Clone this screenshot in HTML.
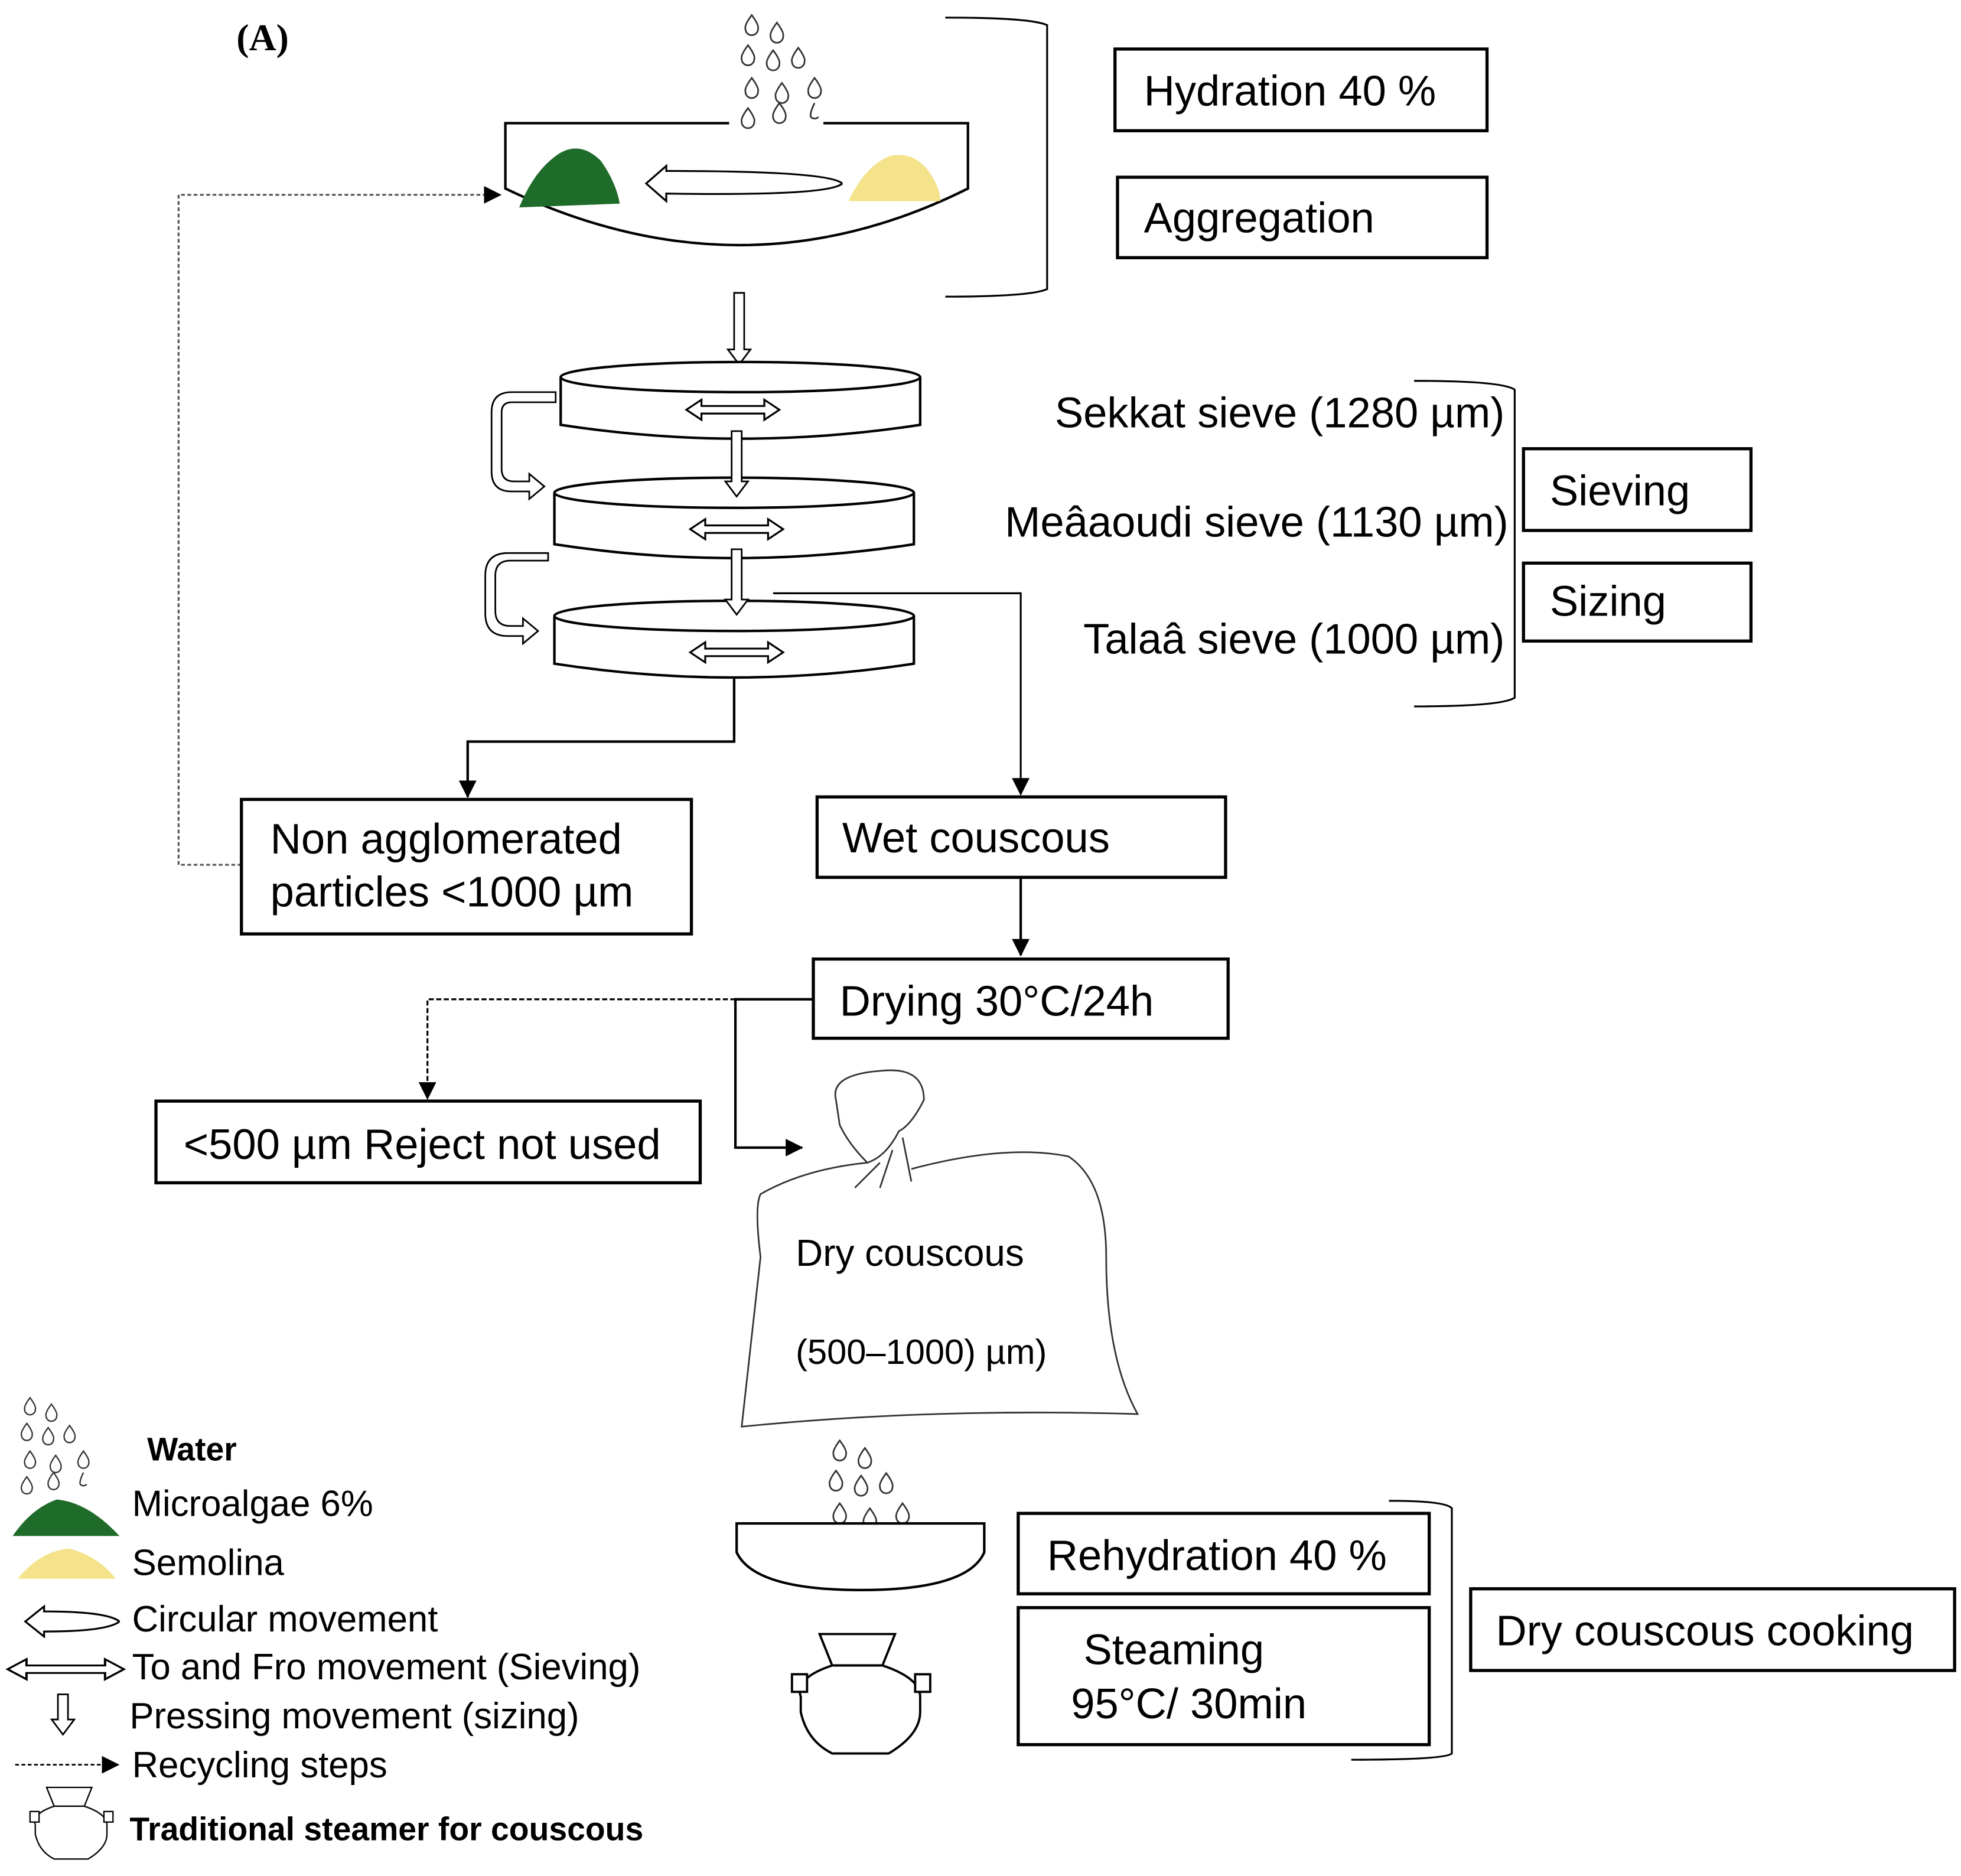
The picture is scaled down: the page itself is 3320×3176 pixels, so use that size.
<!DOCTYPE html>
<html><head><meta charset="utf-8"><style>html,body{margin:0;padding:0;background:#fff}svg{display:block}</style></head><body>
<svg xmlns="http://www.w3.org/2000/svg" width="3320" height="3176" viewBox="0 0 1560 1492.5" font-family="Liberation Sans, sans-serif">
<defs>
<marker id="ah2" markerWidth="14" markerHeight="14" refX="13" refY="7" orient="auto" markerUnits="userSpaceOnUse"><path d="M0,0 L14,7 L0,14 z" fill="#000"/></marker>
<g id="drops" fill="none" stroke="#333" stroke-width="1.3">
<path d="M8,0 q-6,8 -5,11 a5,5 0 0 0 10,0 q1,-3 -5,-11z"/>
<path d="M28,6 q-6,8 -5,11 a5,5 0 0 0 10,0 q1,-3 -5,-11z"/>
<path d="M5,24 q-6,8 -5,11 a5,5 0 0 0 10,0 q1,-3 -5,-11z"/>
<path d="M25,28 q-6,8 -5,11 a5,5 0 0 0 10,0 q1,-3 -5,-11z"/>
<path d="M45,26 q-6,8 -5,11 a5,5 0 0 0 10,0 q1,-3 -5,-11z"/>
<path d="M8,50 q-6,8 -5,11 a5,5 0 0 0 10,0 q1,-3 -5,-11z"/>
<path d="M32,54 q-6,8 -5,11 a5,5 0 0 0 10,0 q1,-3 -5,-11z"/>
<path d="M58,50 q-6,8 -5,11 a5,5 0 0 0 10,0 q1,-3 -5,-11z"/>
<path d="M5,74 q-6,8 -5,11 a5,5 0 0 0 10,0 q1,-3 -5,-11z"/>
<path d="M30,70 q-6,8 -5,11 a5,5 0 0 0 10,0 q1,-3 -5,-11z"/>
<path d="M58,70 q-4,8 -3,11 a4,4 0 0 0 6,0"/>
</g>
<g id="dbl" fill="#fff" stroke="#000" stroke-width="1.5">
<path d="M0,0 l12,-8 v5 h50 v-5 l12,8 l-12,8 v-5 h-50 v5 z"/>
</g>
<g id="steam" fill="#fff" stroke="#000" stroke-width="1.8">
<path d="M20,0 L80,0 L70,25 L30,25 Z"/>
<path d="M30,25 Q0,35 5,50 L5,62 Q10,85 30,95 L75,95 Q100,80 100,62 L100,50 Q100,35 70,25 Z"/>
<rect x="-2" y="32" width="12" height="14"/><rect x="96" y="32" width="12" height="14"/>
</g>
</defs>
<text x="188" y="40" font-family="Liberation Serif, serif" font-weight="bold" font-size="30">(A)</text>
<use href="#drops" x="590" y="12"/>
<path d="M580,98 L402,98 L402,150 Q590,240 770,150 L770,98 L655,98" fill="none" stroke="#000" stroke-width="2"/>
<path d="M413,165 Q425,135 445,122 Q462,112 478,128 Q490,145 493,162 Z" fill="#1f6b2a"/>
<path d="M675,160 Q688,132 708,124 Q728,120 740,138 Q748,150 748,160 Z" fill="#f4e38a"/>
<path d="M670,146 Q660,136 530,136 L530,132 L514,146 L530,160 L530,154 Q660,156 670,146" fill="#fff" stroke="#000" stroke-width="1.5"/>
<path d="M752,14 Q820,14 833,20 L833,230 Q820,236 752,236" fill="none" stroke="#000" stroke-width="1.5"/>
<g font-size="34" fill="#000">
<rect x="887" y="39" width="296" height="65" fill="none" stroke="#000" stroke-width="2.5"/><text x="910" y="84">Hydration 40 %</text>
<rect x="889" y="141" width="294" height="64" fill="none" stroke="#000" stroke-width="2.5"/><text x="910" y="185">Aggregation</text>
</g>
<path d="M584,233 h8 v45 h5 l-9,12 l-9,-12 h5 z" fill="#fff" stroke="#000" stroke-width="1.3"/>
<g fill="#fff" stroke="#000" stroke-width="2">
<path d="M446,300 L446,338 Q589,360 732,338 L732,300"/><ellipse cx="589" cy="300" rx="143" ry="12"/>
<path d="M441,392 L441,433 Q584,455 727,433 L727,392"/><ellipse cx="584" cy="392" rx="143" ry="12"/>
<path d="M441,490 L441,528 Q584,550 727,528 L727,490"/><ellipse cx="584" cy="490" rx="143" ry="12"/>
</g>
<use href="#dbl" x="546" y="326"/><use href="#dbl" x="549" y="421"/><use href="#dbl" x="549" y="519"/>
<path d="M582,343 h8 v40 h5 l-9,12 l-9,-12 h5 z" fill="#fff" stroke="#000" stroke-width="1.3"/>
<path d="M582,437 h8 v40 h5 l-9,12 l-9,-12 h5 z" fill="#fff" stroke="#000" stroke-width="1.3"/>
<path d="M442,320 h-35 q-8,0 -8,8 v45 q0,10 10,10 h12 v-6 l12,10 l-12,10 v-6 h-14 q-16,0 -16,-16 v-47 q0,-16 16,-16 h35 z" fill="#fff" stroke="#000" stroke-width="1.3"/>
<path d="M436,446 h-30 q-12,0 -12,12 v28 q0,12 12,12 h10 v-6 l12,10 l-12,10 v-6 h-12 q-18,0 -18,-18 v-30 q0,-18 18,-18 h32 z" fill="#fff" stroke="#000" stroke-width="1.3"/>
<path d="M615,472 H812 V632" fill="none" stroke="#000" stroke-width="1.5" marker-end="url(#ah2)"/>
<path d="M584,540 V590 H372 V634" fill="none" stroke="#000" stroke-width="2" marker-end="url(#ah2)"/>
<path d="M192,688 H142 V155 H398" fill="none" stroke="#555" stroke-width="1.5" stroke-dasharray="3,2" marker-end="url(#ah2)"/>
<g font-size="34" fill="#000">
<text x="1197" y="340" text-anchor="end">Sekkat sieve (1280 µm)</text>
<text x="1200" y="427" text-anchor="end">Meâaoudi sieve (1130 µm)</text>
<text x="1197" y="520" text-anchor="end">Talaâ sieve (1000 µm)</text>
</g>
<path d="M1125,303 Q1195,303 1205,310 L1205,555 Q1195,562 1125,562" fill="none" stroke="#000" stroke-width="1.5"/>
<g font-size="34">
<rect x="1212" y="357" width="181" height="65" fill="none" stroke="#000" stroke-width="2.5"/><text x="1233" y="402">Sieving</text>
<rect x="1212" y="448" width="181" height="62" fill="none" stroke="#000" stroke-width="2.5"/><text x="1233" y="490">Sizing</text>
<rect x="192" y="636" width="358" height="107" fill="none" stroke="#000" stroke-width="2.5"/><text x="215" y="679">Non agglomerated</text><text x="215" y="721">particles &lt;1000 µm</text>
<rect x="650" y="634" width="325" height="64" fill="none" stroke="#000" stroke-width="2.5"/><text x="670" y="678">Wet couscous</text>
<rect x="647" y="763" width="330" height="63" fill="none" stroke="#000" stroke-width="2.5"/><text x="668" y="808">Drying 30°C/24h</text>
<rect x="124" y="876" width="433" height="65" fill="none" stroke="#000" stroke-width="2.5"/><text x="146" y="922">&lt;500 µm Reject not used</text>
</g>
<path d="M812,698 V760" fill="none" stroke="#000" stroke-width="2" marker-end="url(#ah2)"/>
<path d="M647,795 H585 V913 H638" fill="none" stroke="#000" stroke-width="2" marker-end="url(#ah2)"/>
<path d="M585,795 H340 V874" fill="none" stroke="#000" stroke-width="1.5" stroke-dasharray="4,2" marker-end="url(#ah2)"/>
<path d="M665,875 Q660,855 700,852 Q735,848 735,875 Q725,895 715,900 Q705,920 690,925 Q675,910 668,895 Z M700,925 L680,945 M718,905 L725,940 M710,915 L700,945 M690,925 Q640,930 605,950 Q600,960 605,1000 Q595,1090 590,1135 Q740,1120 905,1125 Q880,1080 880,1000 Q880,940 850,920 Q800,910 725,930" fill="#fff" stroke="#333" stroke-width="1.3"/>
<text x="633" y="1007" font-size="30">Dry couscous</text>
<text x="633" y="1085" font-size="28">(500–1000) µm)</text>
<use href="#drops" x="660" y="1146"/>
<path d="M586,1212 H783 L783,1235 Q770,1265 685,1265 Q600,1265 586,1235 Z" fill="#fff" stroke="#000" stroke-width="2"/>
<use href="#steam" x="632" y="1300"/>
<g font-size="34">
<rect x="810" y="1204" width="327" height="64" fill="none" stroke="#000" stroke-width="2.5"/><text x="833" y="1249">Rehydration 40 %</text>
<rect x="810" y="1279" width="327" height="109" fill="none" stroke="#000" stroke-width="2.5"/><text x="862" y="1324">Steaming</text><text x="852" y="1367">95°C/ 30min</text>
<rect x="1170" y="1264" width="385" height="65" fill="none" stroke="#000" stroke-width="2.5"/><text x="1190" y="1309">Dry couscous cooking</text>
</g>
<path d="M1105,1194 Q1150,1194 1155,1200 L1155,1395 Q1150,1400 1075,1400" fill="none" stroke="#000" stroke-width="1.5"/>
<use href="#drops" transform="translate(17,1112) scale(0.85)"/>
<path d="M10,1222 Q25,1200 45,1193 Q70,1195 95,1222 Z" fill="#1f6b2a"/>
<path d="M14,1256 Q32,1234 55,1232 Q78,1238 92,1256 Z" fill="#f4e38a"/>
<path d="M95,1290 Q85,1282 35,1282 L35,1278 L20,1290 L35,1302 L35,1298 Q85,1298 95,1290" fill="#fff" stroke="#000" stroke-width="1.5"/>
<use href="#dbl" transform="translate(6,1328) scale(1.25,1)"/>
<path d="M46,1348 h8 v20 h5 l-9,12 l-9,-12 h5 z" fill="#fff" stroke="#000" stroke-width="1.3"/>
<path d="M12,1404 H94" fill="none" stroke="#000" stroke-width="1.3" stroke-dasharray="3,2" marker-end="url(#ah2)"/>
<use href="#steam" transform="translate(25,1422) scale(0.6)"/>
<g font-size="29">
<text x="117" y="1162" font-weight="bold" font-size="26">Water</text>
<text x="105" y="1206">Microalgae 6%</text>
<text x="105" y="1253">Semolina</text>
<text x="105" y="1298">Circular movement</text>
<text x="105" y="1336">To and Fro movement (Sieving)</text>
<text x="103" y="1375">Pressing movement (sizing)</text>
<text x="105" y="1414">Recycling steps</text>
<text x="103" y="1464" font-weight="bold" font-size="26">Traditional steamer for couscous</text>
</g>
</svg>
</body></html>
